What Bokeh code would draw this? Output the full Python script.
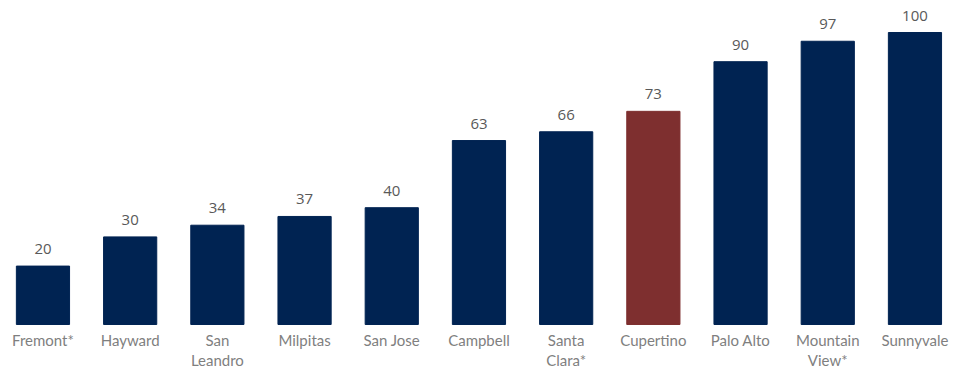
from bokeh.plotting import figure
from bokeh.models import ColumnDataSource, Range1d
from bokeh.core.properties import value
from bokeh.embed import file_html
from bokeh.resources import INLINE

cities = ["Fremont*", "Hayward", "San\nLeandro", "Milpitas", "San Jose", "Campbell",
          "Santa\nClara*", "Cupertino", "Palo Alto", "Mountain\nView*", "Sunnyvale"]
values = [20, 30, 34, 37, 40, 63, 66, 73, 90, 97, 100]
highlight = "Cupertino"

NAVY = "#002352"
RED = "#7E2F2F"

xs = list(range(len(cities)))
colors = [RED if c == highlight else NAVY for c in cities]
src = ColumnDataSource(dict(x=xs, top=values, color=colors, city=cities,
                            label=[str(v) for v in values]))

p = figure(width=953, height=371, output_backend="svg", toolbar_location=None,
           x_range=Range1d(-0.487, 10.442), y_range=Range1d(-16.1, 110.96),
           min_border=0, min_border_left=0, min_border_right=0,
           min_border_top=0, min_border_bottom=0)
p.outline_line_color = None
p.xgrid.visible = False
p.ygrid.visible = False
p.xaxis.visible = False
p.yaxis.visible = False
p.background_fill_color = "white"
p.border_fill_color = "white"

p.vbar(x="x", top="top", bottom=0, width=0.61, color="color", source=src)

p.text(x="x", y="top", text="label", source=src, text_align="center",
       text_baseline="alphabetic", y_offset=-17, text_font=value("Open Sans"),
       text_font_size="15px", text_color="#595959")

p.text(x="x", y=-2.1, text="city", source=src, text_align="center",
       text_baseline="top", text_font=value("Lato"), text_font_size="15px",
       text_color="#7f7f7f", text_line_height=1.15)

open("out.html", "w").write(file_html(p, INLINE))
